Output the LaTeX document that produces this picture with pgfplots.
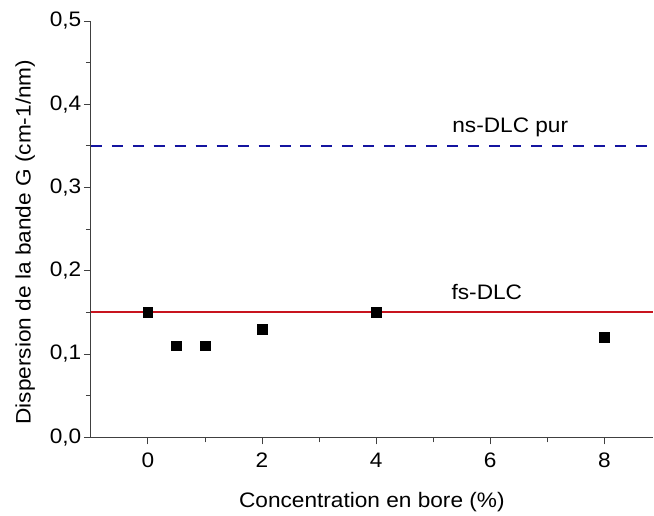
\documentclass[border=0pt]{standalone}
\usepackage{pgfplots}
\pgfplotsset{compat=1.18}
\usepackage{fontspec}
\setmainfont{Liberation Sans}[FakeStretch=1.08]
\begin{document}
\begin{tikzpicture}
\begin{axis}[
  scale only axis,
  width=563pt, height=417pt,
  xmin=-1, xmax=8.85,
  ymin=0, ymax=0.5,
  axis x line=bottom, axis y line=left,
  axis line style={-, line width=0.9pt, black!75},
  tick align=outside,
  xtick={0,2,4,6,8},
  minor xtick={1,3,5,7},
  ytick={0,0.1,0.2,0.3,0.4,0.5},
  minor ytick={0.05,0.15,0.25,0.35,0.45},
  major tick length=7pt, minor tick length=5pt,
  tick style={line width=0.9pt, black!75},
  /pgf/number format/assume math mode=true,
  /pgf/number format/use comma,
  /pgf/number format/fixed,
  /pgf/number format/fixed zerofill,
  /pgf/number format/precision=1,
  xticklabel style={/pgf/number format/precision=0, font=\fontsize{21}{23}\selectfont, yshift=-5pt},
  yticklabel style={font=\fontsize{21}{23}\selectfont, xshift=1pt},
  xlabel={Concentration en bore (\%)},
  ylabel={Dispersion de la bande G (cm-1/nm)},
  xlabel style={font=\fontsize{21}{23}\selectfont, yshift=-18pt},
  ylabel style={font=\fontsize{21}{23}\selectfont, yshift=8pt, xshift=-13pt},
  clip=false,
]
\addplot[color={rgb,255:red,200;green,20;blue,30}, line width=2.2pt] coordinates {(-1,0.15) (8.85,0.15)};
\addplot[color={rgb,255:red,20;green,20;blue,160}, line width=2.2pt, dash pattern=on 11pt off 10pt] coordinates {(-1,0.35) (8.85,0.35)};
\addplot[only marks, mark=square*, mark size=4.8pt, black] coordinates {
(0,0.15) (0.5,0.11) (1,0.11) (2,0.13) (4,0.15) (8,0.12)};
\node[font=\fontsize{21}{23}\selectfont] at (axis cs:6.35,0.372) {ns-DLC pur};
\node[font=\fontsize{21}{23}\selectfont] at (axis cs:5.94,0.174) {fs-DLC};
\end{axis}
\path[use as bounding box] ([shift={(-91pt,-74pt)}]current axis.south west) rectangle ([shift={(0pt,21pt)}]current axis.north east);
\end{tikzpicture}
\end{document}
